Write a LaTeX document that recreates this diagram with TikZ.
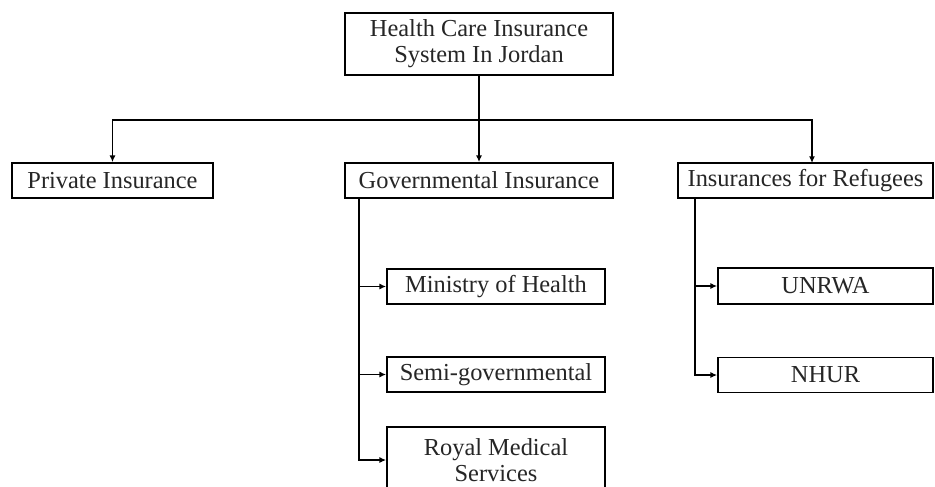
\documentclass[tikz,border=0pt]{standalone}
\usepackage{fontspec}
\setmainfont{Liberation Serif}
\usetikzlibrary{arrows.meta,calc}
\begin{document}
\begin{tikzpicture}[x=0.75pt,y=-0.75pt,
  box/.style={draw=black,line width=1.3pt,inner sep=0pt,align=center,
    font=\fontsize{18.3}{19.5}\selectfont,text=black!85},
  conn/.style={draw=black,line width=1.3pt},
  arr/.style={conn,-{Latex[length=5pt,width=4.5pt]}}]
\clip (0,0) rectangle (935,486);
\fill[white] (0,0) rectangle (935,486);
\node[box,minimum width=268*0.75pt,minimum height=62*0.75pt] (top) at (479,44) {Health Care Insurance\\System In Jordan};
\node[box,minimum width=201*0.75pt,minimum height=35*0.75pt] (priv) at (112.5,180.5) {Private Insurance};
\node[box,minimum width=268*0.75pt,minimum height=35*0.75pt] (gov) at (479,180.5) {Governmental Insurance};
\node[box,minimum width=255*0.75pt,minimum height=35*0.75pt] (ref) at (805.5,180.5) {Insurances for Refugees};
\node[box,minimum width=218*0.75pt,minimum height=35*0.75pt] (moh) at (496,286.5) {Ministry of Health};
\node[box,minimum width=218*0.75pt,minimum height=35*0.75pt] (semi) at (496,374.5) {Semi-governmental};
\node[box,minimum width=218*0.75pt,minimum height=66*0.75pt] (rms) at (496,460) {Royal Medical\\Services};
\node[box,minimum width=215*0.75pt,minimum height=36*0.75pt] (unrwa) at (825.5,286) {UNRWA};
\node[box,minimum width=215*0.75pt,minimum height=35*0.75pt] (nhur) at (825.5,375) {NHUR};
% top bus
\coordinate (bus) at (479,120);
\coordinate (refin) at (812,163);
\draw[conn] (top.south) -- (bus);
\draw[arr] (bus) -| (priv.north);
\draw[arr] (bus) -- (gov.north);
\draw[arr] (bus) -| (refin);
% governmental branch
\coordinate (gb) at (359,198);
\draw[arr] (gb) |- (moh.west);
\draw[arr] (gb) |- (semi.west);
\draw[arr] (gb) |- (rms.west);
% refugee branch
\coordinate (rb) at (695,198);
\draw[arr] (rb) |- (unrwa.west);
\draw[arr] (rb) |- (nhur.west);
\end{tikzpicture}
\end{document}
